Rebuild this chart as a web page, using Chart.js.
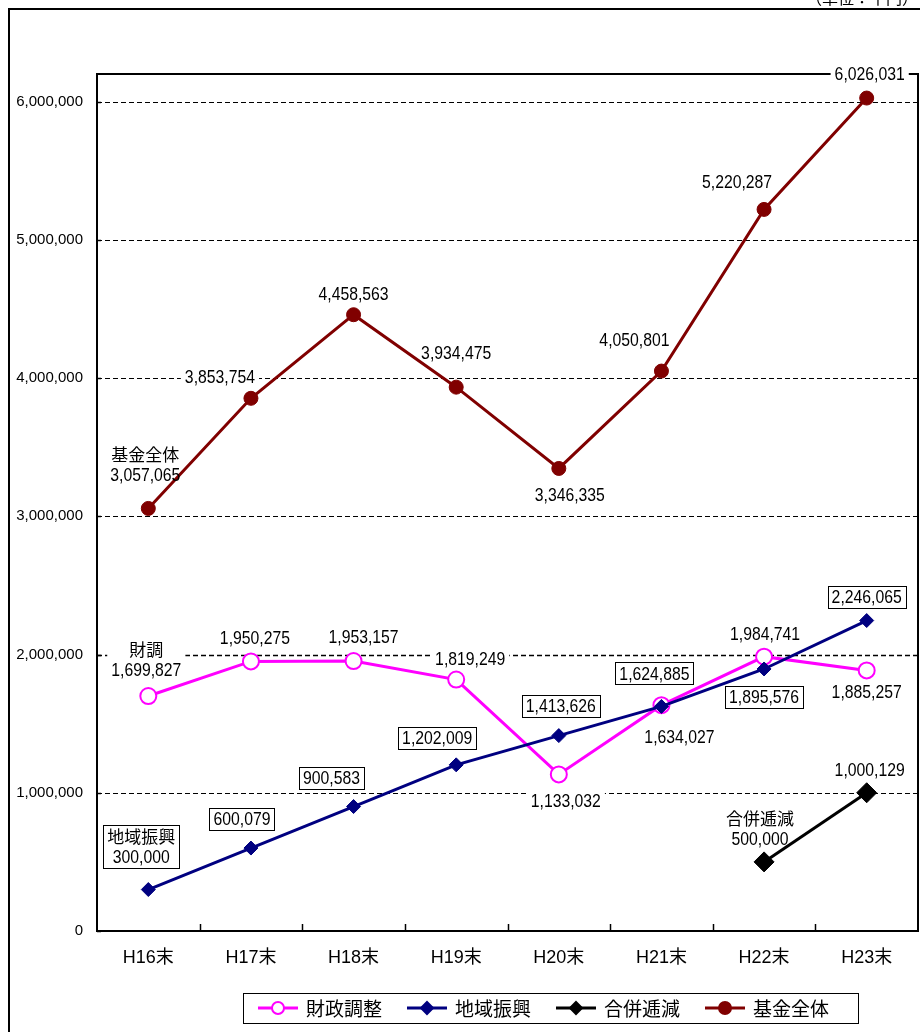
<!DOCTYPE html>
<html>
<head>
<meta charset="utf-8">
<script src="https://cdn.jsdelivr.net/npm/chart.js@4/dist/chart.umd.min.js"></script>
<style>
  html, body { margin: 0; padding: 0; background: #fff; overflow: hidden; }
  canvas { display: block; }
</style>
</head>
<body>
<canvas id="chart" width="920" height="1032"></canvas>
<script>
// data (千円)
const years = ["H16末", "H17末", "H18末", "H19末", "H20末", "H21末", "H22末", "H23末"];
const zaiseiChosei = [1699827, 1950275, 1953157, 1819249, 1133032, 1634027, 1984741, 1885257];
const chiikiShinko = [300000, 600079, 900583, 1202009, 1413626, 1624885, 1895576, 2246065];
const gappeiTeigen = [null, null, null, null, null, null, 500000, 1000129];
const kikinZentai = [3057065, 3853754, 4458563, 3934475, 3346335, 4050801, 5220287, 6026031];
const yTicks = [0, 1000000, 2000000, 3000000, 4000000, 5000000, 6000000];
const yMax = 6200000;

// label placement relative to each point (px)
const offZaisei = [[-2, -26], [4, -24], [10, -24], [14, -21], [7, 26], [18, 32], [1, -23], [0, 21]];
const offChiiki = [[-7, -33], [-9, -29], [-22, -29], [-19, -27], [2, -30], [-7, -33], [0, 28], [0, -24]];
const offGappei = [null, null, null, null, null, null, [-4, -23], [3, -23]];
const offKikin = [[-3, -34], [-31, -22], [0, -21], [0, -34], [11, 26], [-27, -31], [-27, -28], [3, -24]];

const NUM = "'Liberation Sans', 'Noto Sans CJK JP', sans-serif";
const CJK = "'Noto Sans CJK JP', 'Liberation Sans', sans-serif";
const LABEL_FONT = "19px " + NUM;
const NAME_FONT = "17px " + CJK;
const SQUEEZE = 0.83;   // the original numerals are condensed

function buildLabels(chart) {
  const ctx = chart.ctx;
  const items = [];
  chart.data.datasets.forEach((ds, di) => {
    const meta = chart.getDatasetMeta(di);
    let first = true;
    ds.data.forEach((v, i) => {
      if (v == null) return;
      const el = meta.data[i];
      const off = ds.labelOffsets[i];
      const cx = el.x + off[0], cy = el.y + off[1];
      const lines = [{ text: v.toLocaleString('en-US'), font: LABEL_FONT, sx: SQUEEZE, y: cy }];
      if (first) {
        lines.unshift({ text: ds.shortName, font: NAME_FONT, sx: 1, y: cy - 21 });
        first = false;
      }
      let w = 0;
      lines.forEach(l => { ctx.font = l.font; w = Math.max(w, ctx.measureText(l.text).width * l.sx); });
      const pad = 4;
      items.push({
        cx, lines, boxed: ds.boxed,
        x0: cx - w / 2 - pad, x1: cx + w / 2 + pad,
        y0: lines[0].y - 11, y1: lines[lines.length - 1].y + 11
      });
    });
  });
  return items;
}

const decor = {
  id: 'decor',
  beforeDatasetsDraw(chart) {
    const ctx = chart.ctx, a = chart.chartArea, ys = chart.scales.y, xs = chart.scales.x;
    ctx.save();
    // dashed grid lines
    yTicks.forEach(v => {
      if (v === 0) return;
      const y = Math.round(ys.getPixelForValue(v)) + 0.5;
      ctx.beginPath();
      ctx.setLineDash([5, 3]);
      ctx.lineWidth = v === 2000000 ? 1.6 : 1;
      ctx.strokeStyle = '#000';
      ctx.moveTo(a.left, y);
      ctx.lineTo(a.right, y);
      ctx.stroke();
    });
    ctx.setLineDash([]);
    // small inner ticks
    ctx.lineWidth = 1.5;
    yTicks.forEach(v => {
      const y = Math.round(ys.getPixelForValue(v)) + 0.5;
      ctx.beginPath(); ctx.moveTo(a.left, y); ctx.lineTo(a.left + 4, y); ctx.stroke();
    });
    for (let i = 0; i < years.length - 1; i++) {
      const x = Math.round((xs.getPixelForValue(i) + xs.getPixelForValue(i + 1)) / 2) + 0.5;
      ctx.beginPath(); ctx.moveTo(x, a.bottom); ctx.lineTo(x, a.bottom - 7); ctx.stroke();
    }
    // plot frame
    ctx.lineWidth = 2;
    ctx.strokeRect(a.left, a.top, a.right - a.left, a.bottom - a.top);
    // label backgrounds
    chart.$labels = buildLabels(chart);
    ctx.fillStyle = '#fff';
    chart.$labels.forEach(it => ctx.fillRect(it.x0, it.y0, it.x1 - it.x0, it.y1 - it.y0));
    ctx.restore();
  },
  afterDatasetsDraw(chart) {
    const ctx = chart.ctx;
    ctx.save();
    ctx.textAlign = 'center';
    ctx.textBaseline = 'middle';
    ctx.fillStyle = '#000';
    (chart.$labels || []).forEach(it => {
      if (it.boxed) {
        ctx.lineWidth = 1;
        ctx.strokeStyle = '#000';
        ctx.strokeRect(Math.round(it.x0) + 0.5, Math.round(it.y0) + 0.5,
          Math.round(it.x1 - it.x0), Math.round(it.y1 - it.y0));
      }
      it.lines.forEach(l => {
        ctx.save();
        ctx.font = l.font;
        ctx.translate(it.cx, l.y + 1);
        ctx.scale(l.sx, 1);
        ctx.fillText(l.text, 0, 0);
        ctx.restore();
      });
    });
    ctx.restore();
  },
  afterDraw(chart) {
    const ctx = chart.ctx;
    ctx.save();
    // outer frame
    ctx.lineWidth = 2;
    ctx.strokeStyle = '#000';
    ctx.strokeRect(9, 9, 930, 1040);
    // unit label (cut by the top edge)
    ctx.font = "16px " + CJK;
    ctx.textAlign = 'right';
    ctx.textBaseline = 'middle';
    ctx.fillStyle = '#000';
    ctx.fillText('（単位：千円）', 918, -2);
    // legend
    const bx0 = 243, bx1 = 858, by0 = 993, by1 = 1023, cy = 1008;
    ctx.lineWidth = 1;
    ctx.strokeRect(bx0 + 0.5, by0 + 0.5, bx1 - bx0, by1 - by0);
    ctx.font = "19px " + CJK;
    ctx.textAlign = 'left';
    let x = 258;
    chart.data.datasets.forEach(ds => {
      ctx.strokeStyle = ds.borderColor;
      ctx.lineWidth = 3;
      ctx.beginPath(); ctx.moveTo(x, cy); ctx.lineTo(x + 40, cy); ctx.stroke();
      const mx = x + 20, r = 6;
      ctx.beginPath();
      if (ds.pointStyle === 'rectRot') {
        ctx.moveTo(mx, cy - r); ctx.lineTo(mx + r, cy); ctx.lineTo(mx, cy + r); ctx.lineTo(mx - r, cy); ctx.closePath();
      } else {
        ctx.arc(mx, cy, r, 0, Math.PI * 2);
      }
      ctx.fillStyle = ds.pointBackgroundColor;
      ctx.fill();
      ctx.lineWidth = 2;
      ctx.strokeStyle = ds.pointBorderColor;
      ctx.stroke();
      ctx.fillStyle = '#000';
      ctx.fillText(ds.label, x + 48, cy + 1);
      x += 48 + ctx.measureText(ds.label).width + 25;
    });
    ctx.restore();
  }
};

new Chart(document.getElementById('chart'), {
  type: 'line',
  data: {
    labels: years,
    datasets: [
      {
        label: '財政調整', shortName: '財調', data: zaiseiChosei, labelOffsets: offZaisei, boxed: false,
        borderColor: '#FF00FF', borderWidth: 3, pointStyle: 'circle', pointRadius: 8,
        pointBackgroundColor: '#FFFFFF', pointBorderColor: '#FF00FF', pointBorderWidth: 2, order: 4
      },
      {
        label: '地域振興', shortName: '地域振興', data: chiikiShinko, labelOffsets: offChiiki, boxed: true,
        borderColor: '#000080', borderWidth: 3, pointStyle: 'rectRot', pointRadius: 7,
        pointBackgroundColor: '#000080', pointBorderColor: '#000080', pointBorderWidth: 1, order: 3
      },
      {
        label: '合併逓減', shortName: '合併逓減', data: gappeiTeigen, labelOffsets: offGappei, boxed: false,
        borderColor: '#000000', borderWidth: 3, pointStyle: 'rectRot', pointRadius: 10,
        pointBackgroundColor: '#000000', pointBorderColor: '#000000', pointBorderWidth: 1, order: 2
      },
      {
        label: '基金全体', shortName: '基金全体', data: kikinZentai, labelOffsets: offKikin, boxed: false,
        borderColor: '#800000', borderWidth: 3, pointStyle: 'circle', pointRadius: 7,
        pointBackgroundColor: '#800000', pointBorderColor: '#800000', pointBorderWidth: 1, order: 1
      }
    ]
  },
  options: {
    responsive: false,
    animation: false,
    events: [],
    layout: { autoPadding: false, padding: { left: 0, top: 74, right: 2, bottom: 0 } },
    plugins: { legend: { display: false }, tooltip: { enabled: false } },
    scales: {
      x: {
        offset: true,
        grid: { display: false, drawTicks: false },
        border: { display: false },
        ticks: { color: '#000', font: { family: NUM, size: 18 }, padding: 16, maxRotation: 0 },
        afterFit(s) { s.height = 101; s.paddingLeft = 0; s.paddingRight = 0; }
      },
      y: {
        min: 0, max: yMax,
        grid: { display: false, drawTicks: false },
        border: { display: false },
        afterBuildTicks(s) { s.ticks = yTicks.map(v => ({ value: v })); },
        ticks: {
          color: '#000', font: { family: NUM, size: 15 }, padding: 14,
          callback: v => v.toLocaleString('en-US')
        },
        afterFit(s) { s.width = 97; }
      }
    }
  },
  plugins: [decor]
});
</script>
</body>
</html>
